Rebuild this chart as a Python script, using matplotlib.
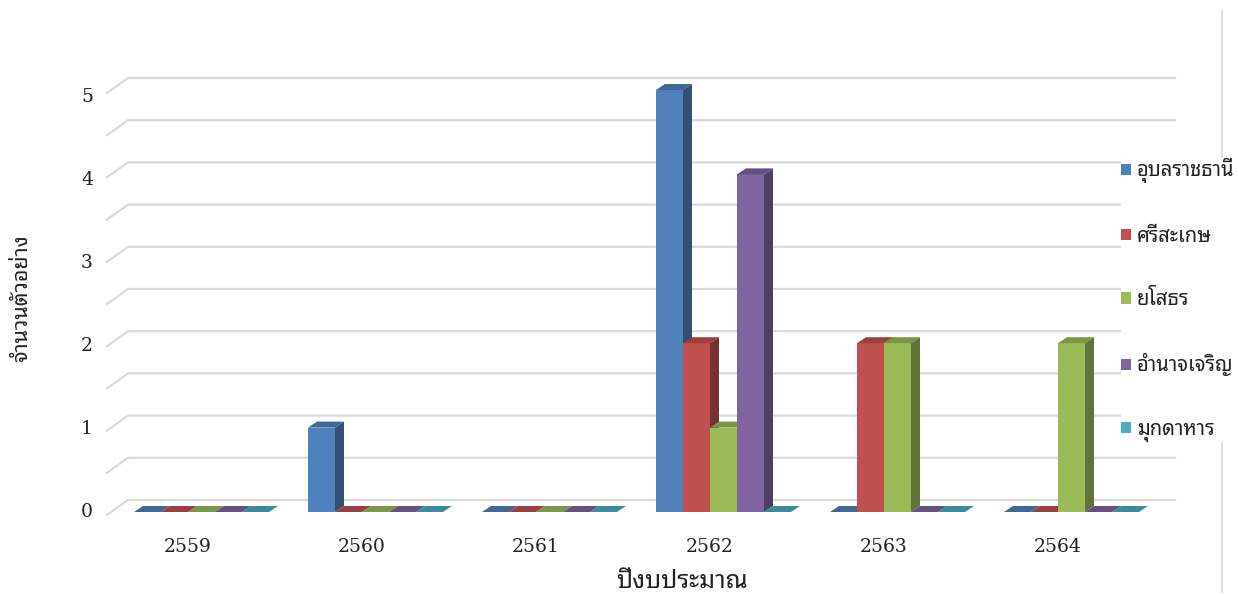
import matplotlib
matplotlib.use("Agg")
import matplotlib.pyplot as plt
import numpy as np
from matplotlib.colors import to_rgb
from matplotlib.patches import Polygon

plt.rcParams['font.family'] = ['Noto Sans Thai Looped', 'DejaVu Sans']

# samples per budget year and province
years = ['2559', '2560', '2561', '2562', '2563', '2564']
provinces = ['อุบลราชธานี', 'ศรีสะเกษ', 'ยโสธร', 'อำนาจเจริญ', 'มุกดาหาร']
ubon = [0, 1, 0, 5, 0, 0]
sisaket = [0, 0, 0, 2, 2, 0]
yasothon = [0, 0, 0, 1, 2, 2]
amnat = [0, 0, 0, 4, 0, 0]
mukdahan = [0, 0, 0, 0, 0, 0]
colors = ['#4f81bd', '#c0504d', '#9bbb59', '#8064a2', '#4bacc6']
yticks = [0, 1, 2, 3, 4, 5]

W, H = 1238, 596
fig = plt.figure(figsize=(W / 100, H / 100), dpi=100)
ax = fig.add_axes([0, 0, 1, 1])

# axes fill the figure: one year group = 174 px, one sample = 84.4 px,
# first group centred at x=201.5 px, floor of the bar fronts at y=512 px
gx, gy = 174.0, 84.4
x_org, y_org = 201.5, 512.0
ax.set_xlim(-x_org / gx, (W - x_org) / gx)
ax.set_ylim(-(H - y_org) / gy, y_org / gy)
ax.axis('off')


def px(xp):
    return (xp - x_org) / gx


def shade(c, f):
    return tuple(np.array(to_rgb(c)) * f)


bw = 27 / gx                 # bar width
dx, dy = 9 / gx, 6 / gy      # bar depth (oblique)
wall_dy = 12 / gy            # back wall sits above the bar fronts
front_dy = -3 / gy           # front edge of the floor

# back wall gridlines with the little diagonal on the left side
for v in np.arange(0, 5.01, 0.5):
    ax.plot([px(107), px(128), px(1175)], [v + front_dy, v + wall_dy, v + wall_dy],
            color='#d9d9d9', lw=1.6, zorder=1)

# right hand frame line
ax.plot([px(1222), px(1222)], [(y_org - 10) / gy, (y_org - 592) / gy],
        color='#d9d9d9', lw=1.2, zorder=1)

x = np.arange(len(years))
series = [ubon, sisaket, yasothon, amnat, mukdahan]
handles = []
for k, (vals, c, name) in enumerate(zip(series, colors, provinces)):
    z = 3 + 3 * k
    bars = ax.bar(x + (k - 2) * bw, vals, width=bw, color=c, zorder=z,
                  label=name, linewidth=0)
    handles.append(bars)
    for b, v in zip(bars, vals):
        x0 = b.get_x()
        x1 = x0 + bw
        if v > 0:
            ax.add_patch(Polygon([(x1, 0), (x1 + dx, dy), (x1 + dx, v + dy), (x1, v)],
                                 closed=True, fc=shade(c, 0.62), ec='none', zorder=z + 1))
        ax.add_patch(Polygon([(x0, v), (x0 + dx, v + dy), (x1 + dx, v + dy), (x1, v)],
                             closed=True, fc=shade(c, 0.8), ec='none', zorder=z + 2))

# tick labels
num_font = dict(family=['DejaVu Serif'], fontsize=13.5, color='#222222')
for v in yticks:
    ax.text(px(87), v * 83 / gy, str(v), ha='center', va='center', **num_font)
for i, yr in enumerate(years):
    ax.text(i - 14 / gx, -35 / gy, yr, ha='center', va='center', **num_font)

fig.text(682 / W, 1 - 582 / H, 'ปีงบประมาณ', ha='center', va='center',
         fontsize=18, color='#222222')
fig.text(22 / W, 1 - 298 / H, 'จำนวนตัวอย่าง', ha='center', va='center',
         rotation=90, fontsize=15.5, color='#222222')

leg = ax.legend(handles=handles, loc='center left',
                bbox_to_anchor=(1121 / W, 1 - 300 / H), bbox_transform=fig.transFigure,
                frameon=True, fancybox=False, edgecolor='none', facecolor='white', framealpha=1,
                borderpad=0, borderaxespad=0, handlelength=0.5, handleheight=0.5,
                handletextpad=0.3, labelspacing=2.15, fontsize=14.5)
for t in leg.get_texts():
    t.set_color('#222222')

fig.savefig('out.png', dpi=100)
